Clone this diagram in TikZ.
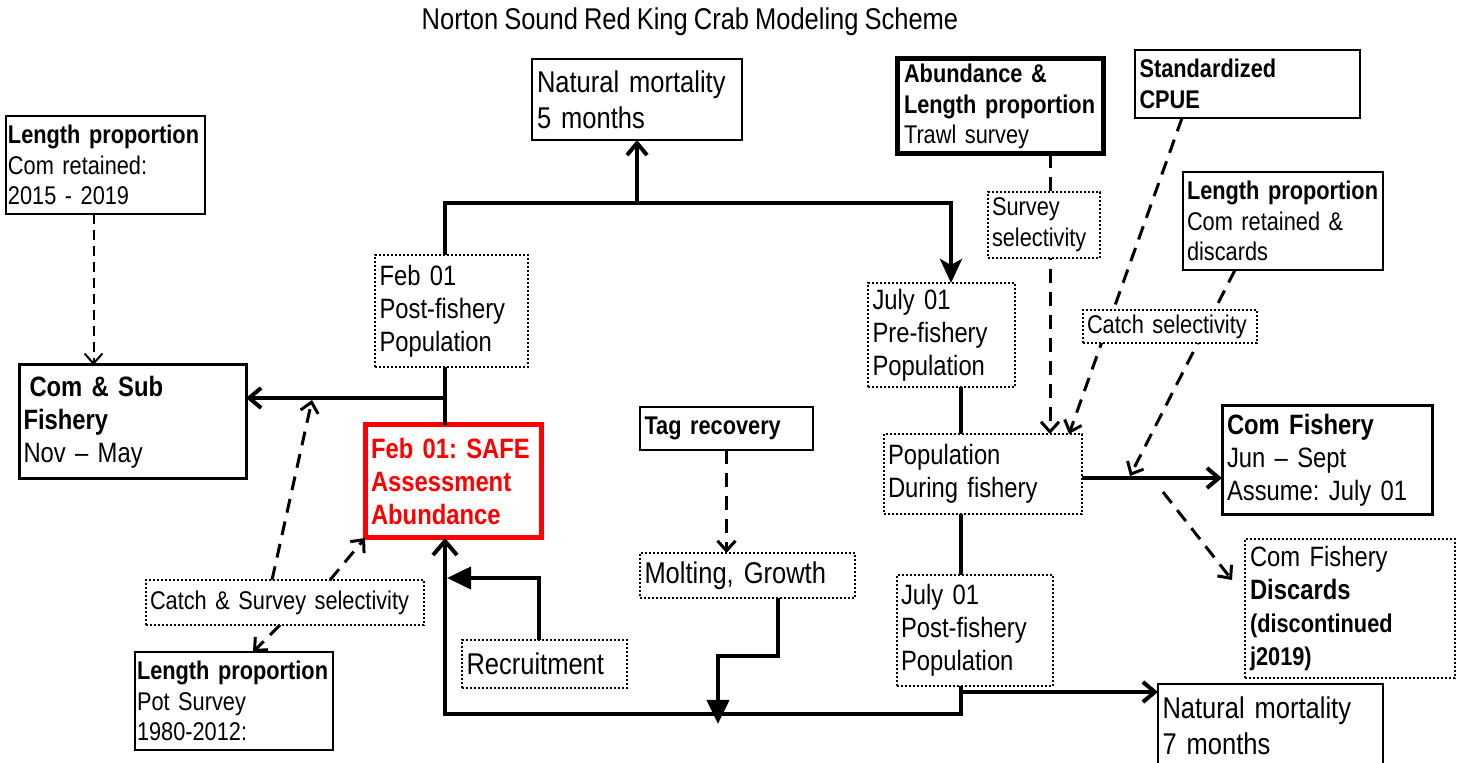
\documentclass[tikz,border=0pt]{standalone}
\usepackage{fontspec}
\setmainfont[FakeStretch=0.85, WordSpace=0.85]{Liberation Sans}
\usetikzlibrary{arrows.meta}
\frenchspacing
\hyphenpenalty=10000
\exhyphenpenalty=10000
\newcommand{\txtL}{\fontsize{15}{18}\selectfont}
\newcommand{\txtM}{\fontsize{14}{16.5}\selectfont}
\newcommand{\txtS}{\fontsize{12.8}{15.3}\selectfont}
\tikzset{
	box/.style = {anchor=north west, align=left, inner xsep=2pt,
		inner ysep=0pt, outer sep=0pt},
	boxsize/.style n args = {3}{minimum width=#1, minimum height=#2,
		text width=#3},
	thinbox/.style = {box, draw, line width=0.75pt, font=\txtS},% plain frame
	heavybox/.style = {box, draw, line width=1.5pt, font=\txtM},% fishery frame
	dotbox/.style = {box, draw, line width=1pt, dash pattern=on 1pt off 1pt,
		fill=white, font=\txtM},% dotted frame, population stage
	safebox/.style = {box, draw=red, line width=2.5pt, text=red,
		font=\txtM\bfseries},% assessment frame
	flow/.style = {line width=2pt},% population flow
	dashline/.style = {line width=1.5pt, dash pattern=on 7pt off 4.5pt},% data input
	thindash/.style = {line width=1pt, dash pattern=on 5pt off 3pt},
	opentip/.style = {-{Straight Barb[length=6pt,width=10pt]}},
	dashtip/.style = {-{Straight Barb[length=5pt,width=9pt]}},
	filltip/.style = {-{Triangle[length=12pt,width=11pt]}},
	stealthtip/.style = {-{Stealth[length=12pt,width=11pt,inset=3pt]}}
}
\begin{document}
\begin{tikzpicture}[x=0.5pt, y=-0.5pt]
\useasboundingbox (0,0) rectangle (1467,763);

% title
\node (title) at (690,22) {\txtL Norton Sound Red King Crab Modeling Scheme};

% data and fishery boxes
\node[thinbox, inner xsep=1pt, boxsize={99.5pt}{49pt}{97.5pt}] (lpret) at (6,116)
	{\textbf{Length proportion}\\Com retained:\\2015 - 2019};
\node[heavybox, boxsize={113.5pt}{57pt}{109pt}] (comsub) at (19,365)
	{\textbf{\hspace*{3pt}Com \& Sub}\\\textbf{Fishery}\\Nov -- May};
\node[thinbox, font=\txtL, boxsize={105pt}{40.5pt}{100pt}] (nmfive) at (532,59)
	{Natural mortality\\5 months};
\node[thinbox, line width=2.5pt, inner xsep=3pt, boxsize={103pt}{47.5pt}{96pt}] (trawl) at (897,59)
	{\textbf{Abundance \&}\\\textbf{Length proportion}\\Trawl survey};
\node[thinbox, boxsize={112.5pt}{34pt}{108pt}] (cpue) at (1135,50)
	{\textbf{Standardized}\\\textbf{CPUE}};
\node[thinbox, boxsize={100pt}{49pt}{96pt}] (lpcom) at (1183,172)
	{\textbf{Length proportion}\\Com retained \&\\discards};
\node[heavybox, boxsize={105pt}{54.5pt}{100pt}] (comfish) at (1222,406)
	{\textbf{Com Fishery}\\Jun -- Sept\\Assume: July 01};
\node[thinbox, font=\txtL, boxsize={112.5pt}{42pt}{108pt}] (nmseven) at (1158,684)
	{Natural mortality\\7 months};
\node[thinbox, boxsize={86.5pt}{21.5pt}{82pt}] (tag) at (640,407)
	{\textbf{Tag recovery}};
\node[thinbox, inner xsep=1pt, boxsize={99pt}{49pt}{97pt}] (lppot) at (135,652)
	{\textbf{Length proportion}\\Pot Survey\\1980-2012:};
\node[safebox, boxsize={88pt}{56.5pt}{82pt}] (safe) at (365,425)
	{Feb 01: SAFE\\Assessment\\Abundance};

% population stages
\node[dotbox, boxsize={76.5pt}{56pt}{72pt}] (febpost) at (375,255)
	{Feb 01\\Post-fishery\\Population};
\node[dotbox, boxsize={73.5pt}{52pt}{69pt}] (julpre) at (868,283)
	{July 01\\Pre-fishery\\Population};
\node[dotbox, boxsize={99pt}{40pt}{95pt}] (popdur) at (884,434)
	{Population\\During fishery};
\node[dotbox, boxsize={78pt}{55.5pt}{74pt}] (julpost) at (897,575)
	{July 01\\Post-fishery\\Population};
\node[dotbox, boxsize={105pt}{69.5pt}{100pt}] (discards) at (1245,539)
	{Com Fishery\\\textbf{Discards}\\{\txtS\bfseries (discontinued}\\{\txtS\bfseries j2019)}};
\node[dotbox, font=\txtL, boxsize={107.5pt}{22.5pt}{103pt}] (molting) at (640,553)
	{Molting, Growth};
\node[dotbox, font=\txtL, boxsize={82.5pt}{24pt}{78pt}] (recruit) at (462,640)
	{Recruitment};
\node[dotbox, font=\txtS, boxsize={139pt}{22.5pt}{135pt}] (catsurv) at (146,580)
	{Catch \& Survey selectivity};

% junctions
\coordinate (jtop) at (445,203);
\coordinate (jtopr) at (951,203);
\coordinate (jfeb) at (445,398);
\coordinate (xmid) at (961,0);
\coordinate (jbot) at (961,714);
\coordinate (jnm) at (961,692);
\coordinate (jrec) at (447,578);
\coordinate (jmolt) at (718,724);
\coordinate (yfish) at (0,478);
\coordinate (jcatch) at (1130,476);
\coordinate (jsel) at (312,400);
\coordinate (jdisc) at (1163,492);
\coordinate (xsurv) at (1050,0);

% population flow
\draw[flow, stealthtip] (febpost.north -| jtop) |- (jtopr) -- (julpre.north -| jtopr);
\draw[flow, opentip] (nmfive.south |- jtop) -- (nmfive.south);
\draw[flow] (febpost.south -| jtop) -- (safe.north -| jtop);
\draw[flow, opentip] (jfeb) -- (comsub.east |- jfeb);
\draw[flow] (julpre.south -| xmid) -- (popdur.north -| xmid);
\draw[flow] (popdur.south -| xmid) -- (julpost.north -| xmid);
\draw[flow, opentip] (popdur.east |- yfish) -- (comfish.west |- yfish);
\draw[flow, opentip] (jnm) -- (jnm -| nmseven.west);
\draw[flow, -{Straight Barb[length=7pt,width=12pt]}] (julpost.south -| xmid) -- (jbot)
	-- (jbot -| jtop) -- (safe.south -| jtop);
\draw[flow, filltip] ([xshift=-3pt]recruit.north) |- (jrec);
\draw[flow, filltip] ([xshift=15pt]molting.south) -- ++(0,58) -| (jmolt);

% data inputs
\draw[thindash, dashtip] ([xshift=-6pt]lpret.south) -- ([xshift=-6pt]lpret.south |- comsub.north);
\draw[dashline, dashtip] (tag.south) -- (tag.south |- molting.north);
\draw[dashline, dashtip] ([xshift=63pt]catsurv.north west) -- (jsel);
\draw[dashline, dashtip] ([xshift=92pt]catsurv.north west) -- (safe.south west);
\draw[dashline, dashtip] ([xshift=67pt]catsurv.south west) -- ([xshift=59pt]lppot.north west);
\draw[dashline, dashtip] (trawl.south -| xsurv) -- (popdur.north -| xsurv);
\draw[dashline, dashtip] ([xshift=23.5pt]cpue.south west) -- ([xshift=-6.5pt]popdur.north east);
\draw[dashline, dashtip] ([xshift=26pt]lpcom.south west) -- (jcatch);
\draw[dashline, dashtip] (jdisc) -- ([xshift=-6.5pt,yshift=-20.5pt]discards.north west);

% selectivity boxes sit on the dashed inputs
\node[dotbox, font=\txtS, boxsize={56pt}{33pt}{52pt}] (survsel) at (988,192)
	{Survey\\selectivity};
\node[dotbox, font=\txtS, boxsize={87pt}{16.5pt}{83pt}] (catsel) at (1083,310)
	{Catch selectivity};
\end{tikzpicture}
\end{document}
